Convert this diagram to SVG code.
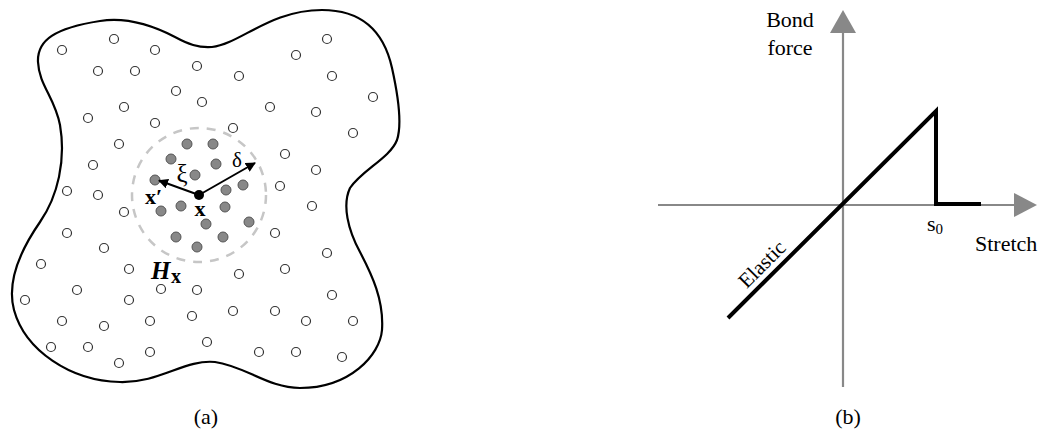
<svg xmlns="http://www.w3.org/2000/svg" width="1043" height="434" viewBox="0 0 1043 434">
<defs>
<style>
.o{fill:#fff;stroke:#333;stroke-width:1.2}
.g{fill:#888;stroke:#555;stroke-width:1}
.t{font-family:"Liberation Serif","Times New Roman",serif;fill:#000}
.ax{stroke:#888;stroke-width:2.2;fill:none}
.ah{fill:#888}
</style>
<marker id="arr" viewBox="0 0 10 10" refX="9" refY="5" markerWidth="5" markerHeight="5" orient="auto" markerUnits="strokeWidth">
<path d="M0,0 L10,5 L0,10 z" fill="#000"/>
</marker>
</defs>
<rect width="1043" height="434" fill="#fff"/>

<g id="body">
<path d="M 38,62 C 37,40 55,28 100,21 C 125,17 150,24 175,37 C 188,44 198,48 212,47 C 240,44 270,10 322,10 C 362,10 384,32 392,68 C 398,95 402,125 397,140 C 390,158 362,170 350,188 C 342,205 348,230 360,252 C 372,275 384,300 382,330 C 380,355 350,388 300,388 C 268,388 245,366 215,362 C 185,359 160,383 120,382 C 70,381 25,350 14,310 C 6,280 22,248 40,222 C 58,196 66,160 60,125 C 55,98 39,85 38,62 Z" fill="none" stroke="#000" stroke-width="2.2"/>
</g>

<g id="particles">
<circle class="o" cx="62" cy="50" r="4.5"/><circle class="o" cx="114" cy="39" r="4.5"/><circle class="o" cx="155" cy="50" r="4.5"/><circle class="o" cx="98" cy="71" r="4.5"/><circle class="o" cx="135" cy="71" r="4.5"/><circle class="o" cx="197" cy="66" r="4.5"/><circle class="o" cx="176" cy="91" r="4.5"/><circle class="o" cx="202" cy="102" r="4.5"/><circle class="o" cx="124" cy="107" r="4.5"/><circle class="o" cx="88" cy="118" r="4.5"/><circle class="o" cx="155" cy="123" r="4.5"/><circle class="o" cx="119" cy="144" r="4.5"/><circle class="o" cx="93" cy="165" r="4.5"/><circle class="o" cx="67" cy="191" r="4.5"/><circle class="o" cx="98" cy="195" r="4.5"/>
<circle class="o" cx="327" cy="39" r="4.5"/><circle class="o" cx="296" cy="55" r="4.5"/><circle class="o" cx="239" cy="76" r="4.5"/><circle class="o" cx="332" cy="76" r="4.5"/><circle class="o" cx="373" cy="97" r="4.5"/><circle class="o" cx="270" cy="107" r="4.5"/><circle class="o" cx="316" cy="112" r="4.5"/><circle class="o" cx="233" cy="128" r="4.5"/><circle class="o" cx="353" cy="133" r="4.5"/><circle class="o" cx="285" cy="154" r="4.5"/><circle class="o" cx="316" cy="170" r="4.5"/><circle class="o" cx="280" cy="186" r="4.5"/>
<circle class="o" cx="124" cy="212" r="4.5"/><circle class="o" cx="67" cy="233" r="4.5"/><circle class="o" cx="104" cy="248" r="4.5"/><circle class="o" cx="41" cy="264" r="4.5"/><circle class="o" cx="129" cy="269" r="4.5"/><circle class="o" cx="77" cy="290" r="4.5"/><circle class="o" cx="161" cy="289" r="4.5"/><circle class="o" cx="197" cy="290" r="4.5"/><circle class="o" cx="25" cy="300" r="4.5"/><circle class="o" cx="129" cy="300" r="4.5"/><circle class="o" cx="62" cy="321" r="4.5"/><circle class="o" cx="104" cy="326" r="4.5"/><circle class="o" cx="150" cy="321" r="4.5"/><circle class="o" cx="192" cy="316" r="4.5"/><circle class="o" cx="51" cy="347" r="4.5"/><circle class="o" cx="88" cy="347" r="4.5"/><circle class="o" cx="150" cy="352" r="4.5"/><circle class="o" cx="119" cy="363" r="4.5"/><circle class="o" cx="207" cy="342" r="4.5"/>
<circle class="o" cx="312" cy="206" r="4.5"/><circle class="o" cx="275" cy="233" r="4.5"/><circle class="o" cx="327" cy="253" r="4.5"/><circle class="o" cx="239" cy="274" r="4.5"/><circle class="o" cx="285" cy="269" r="4.5"/><circle class="o" cx="332" cy="295" r="4.5"/><circle class="o" cx="233" cy="311" r="4.5"/><circle class="o" cx="275" cy="311" r="4.5"/><circle class="o" cx="306" cy="321" r="4.5"/><circle class="o" cx="353" cy="321" r="4.5"/><circle class="o" cx="259" cy="352" r="4.5"/><circle class="o" cx="296" cy="352" r="4.5"/><circle class="o" cx="342" cy="357" r="4.5"/>
</g>

<g id="horizon">
<circle cx="199" cy="195" r="67" fill="none" stroke="#c6c6c6" stroke-width="2.5" stroke-dasharray="9 8"/>
<circle class="g" cx="187" cy="144" r="5"/><circle class="g" cx="213" cy="144" r="5"/><circle class="g" cx="171" cy="159" r="5"/><circle class="g" cx="216" cy="164" r="5"/><circle class="g" cx="195" cy="175" r="5"/><circle class="g" cx="155" cy="180" r="5"/><circle class="g" cx="226" cy="190" r="5"/><circle class="g" cx="243" cy="185" r="5"/><circle class="g" cx="161" cy="211" r="5"/><circle class="g" cx="181" cy="206" r="5"/><circle class="g" cx="225" cy="207" r="5"/><circle class="g" cx="206" cy="224" r="5"/><circle class="g" cx="249" cy="222" r="5"/><circle class="g" cx="176" cy="237" r="5"/><circle class="g" cx="223" cy="237" r="5"/><circle class="g" cx="197" cy="247" r="5"/>
<text class="t" x="151" y="279" font-size="25" font-weight="bold" font-style="italic">H</text>
<text class="t" x="171" y="283" font-size="20" font-weight="bold">x</text>
</g>

<g id="connectors">
<line x1="199" y1="195" x2="159" y2="180.5" stroke="#000" stroke-width="2" marker-end="url(#arr)"/>
<line x1="199" y1="195" x2="255" y2="163" stroke="#000" stroke-width="2" marker-end="url(#arr)"/>
</g>

<g id="point-x">
<circle cx="199" cy="195" r="5" fill="#000"/>
<text class="t" x="200" y="216" font-size="22" font-weight="bold" text-anchor="middle">x</text>
<text class="t" x="145" y="204" font-size="22" font-weight="bold">x′</text>
<text class="t" x="182" y="182" font-size="25" text-anchor="middle">ξ</text>
<text class="t" x="237" y="167" font-size="21" text-anchor="middle">δ</text>
</g>

<g id="axes">
<line class="ax" x1="843" y1="30" x2="843" y2="387"/>
<polygon class="ah" points="843,10 830,33 856,33"/>
<line class="ax" x1="658" y1="205" x2="1017" y2="205"/>
<polygon class="ah" points="1037,205 1014,193 1014,217"/>
<text class="t" x="790" y="27" font-size="22" text-anchor="middle">Bond</text>
<text class="t" x="790" y="55" font-size="22" text-anchor="middle">force</text>
<text class="t" x="975" y="251" font-size="22">Stretch</text>
<text class="t" x="927" y="231" font-size="22">s<tspan font-size="15" dy="3">0</tspan></text>
</g>

<g id="law">
<polyline points="728,318 936,111 936,204 981,204" fill="none" stroke="#000" stroke-width="4" stroke-linejoin="miter"/>
<text class="t" transform="translate(767,269) rotate(-45)" font-size="21" text-anchor="middle">Elastic</text>
</g>

<g id="captions">
<text class="t" x="206" y="424" font-size="22" text-anchor="middle">(a)</text>
<text class="t" x="848" y="424" font-size="22" text-anchor="middle">(b)</text>
</g>
</svg>
